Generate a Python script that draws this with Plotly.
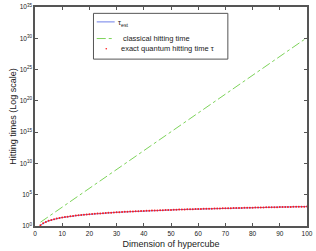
import plotly.graph_objects as go

# Dimension of hypercube for the quantum curves
n_quantum = list(range(2, 101))
# exact quantum hitting time
tau_exact = [1.35, 2.7, 4.5, 6.7, 9.2, 12.0, 15.2, 18.7, 22.5, 26.6, 31.0, 35.6, 40.5, 45.7,
             51.2, 56.9, 62.9, 69.2, 75.7, 82.4, 89.4, 96.6, 104.1, 111.8, 119.8, 127.9, 136.3,
             145.0, 153.8, 162.9, 172.2, 181.7, 191.5, 201.5, 211.7, 222.1, 232.6, 243.5, 254.5,
             265.8, 277.2, 288.8, 300.6, 312.7, 325.0, 337.5, 350.2, 363.0, 376.1, 389.4, 402.8,
             416.5, 430.3, 444.4, 458.5, 472.9, 487.6, 502.5, 517.4, 532.5, 548.0, 563.6, 579.3,
             595.2, 611.4, 627.6, 644.0, 660.8, 677.5, 694.6, 711.8, 729.3, 746.8, 764.5, 782.4,
             800.7, 818.9, 837.4, 855.9, 874.8, 893.9, 913.1, 932.4, 951.9, 971.6, 991.4, 1011,
             1032, 1052, 1072, 1093, 1114, 1135, 1156, 1178, 1199, 1221, 1243, 1265]
# estimated quantum hitting time (visually identical to the exact values)
tau_est = list(tau_exact)

# classical hitting time
n_classical = [2, 10, 20, 30, 40, 50, 60, 70, 80, 90, 100]
classical = [4, 1.02e3, 1.05e6, 1.07e9, 1.10e12, 1.13e15, 1.15e18, 1.18e21, 1.21e24, 1.24e27, 1.27e30]

x_ticks = [0, 10, 20, 30, 40, 50, 60, 70, 80, 90, 100]
y_exps = [0, 5, 10, 15, 20, 25, 30, 35]

legend_names = ["τ<sub>est</sub>", "classical hitting time", "exact quantum hitting time τ"]

C_EST = "#6f7fe8"
C_CLS = "#7dd35a"
C_EXA = "#ff1a1a"
AX = "#555555"
TXT = "#222222"

fig = go.Figure()
fig.add_trace(go.Scatter(x=n_quantum, y=tau_est, mode="lines", name=legend_names[0],
                         line=dict(color=C_EST, width=1), showlegend=False))
fig.add_trace(go.Scatter(x=n_classical, y=classical, mode="lines", name=legend_names[1],
                         line=dict(color=C_CLS, width=1, dash="dashdot"), showlegend=False))
fig.add_trace(go.Scatter(x=n_quantum, y=tau_exact, mode="markers", name=legend_names[2],
                         marker=dict(color=C_EXA, size=2, line=dict(width=0)), showlegend=False))

axis_common = dict(showgrid=False, zeroline=False, showline=True, linecolor=AX, linewidth=1.5,
                   mirror="ticks", ticks="inside", ticklen=3, tickcolor=AX,
                   ticklabeloverflow="allow", tickfont=dict(size=6.5, color=TXT))

fig.update_xaxes(range=[0, 100], tickvals=x_ticks, ticktext=[str(v) for v in x_ticks],
                 title=dict(text="Dimension of hypercube", font=dict(size=9, color=TXT), standoff=5),
                 **axis_common)
fig.update_yaxes(type="log", range=[0, 35], tickvals=[10.0 ** e for e in y_exps],
                 ticktext=["10<sup>%d</sup>" % e for e in y_exps],
                 title=dict(text="Hitting times (Log scale)", font=dict(size=9, color=TXT), standoff=2),
                 **axis_common)

# legend box drawn manually (paper coordinates)
shapes = [
    dict(type="rect", xref="paper", yref="paper", x0=0.215, x1=0.709, y0=0.762, y1=0.971,
         line=dict(color=AX, width=1), fillcolor="white", layer="above"),
    dict(type="line", xref="paper", yref="paper", x0=0.227, x1=0.293, y0=0.932, y1=0.932,
         line=dict(color=C_EST, width=1), layer="above"),
    dict(type="line", xref="paper", yref="paper", x0=0.227, x1=0.293, y0=0.856, y1=0.856,
         line=dict(color=C_CLS, width=1, dash="dashdot"), layer="above"),
    dict(type="circle", xref="paper", yref="paper", x0=0.259, x1=0.265, y0=0.806, y1=0.813,
         line=dict(color=C_EXA, width=0), fillcolor=C_EXA, layer="above"),
]
annotations = [
    dict(xref="paper", yref="paper", x=0.296, y=0.925, xanchor="left", yanchor="middle",
         text=legend_names[0], showarrow=False, font=dict(size=7.5, color=TXT)),
    dict(xref="paper", yref="paper", x=0.315, y=0.856, xanchor="left", yanchor="middle",
         text=legend_names[1], showarrow=False, font=dict(size=7.5, color=TXT)),
    dict(xref="paper", yref="paper", x=0.308, y=0.809, xanchor="left", yanchor="middle",
         text=legend_names[2], showarrow=False, font=dict(size=7.5, color=TXT)),
]

fig.update_layout(
    width=316, height=251,
    margin=dict(l=35, r=3, t=6, b=25),
    plot_bgcolor="white", paper_bgcolor="white",
    font=dict(family="Liberation Sans, Arial, sans-serif", size=7, color=TXT),
    showlegend=False,
    shapes=shapes, annotations=annotations,
)

fig.write_html("out.html", config={"displayModeBar": False},
               post_script="document.body.style.margin='0';document.body.style.overflow='hidden';")
